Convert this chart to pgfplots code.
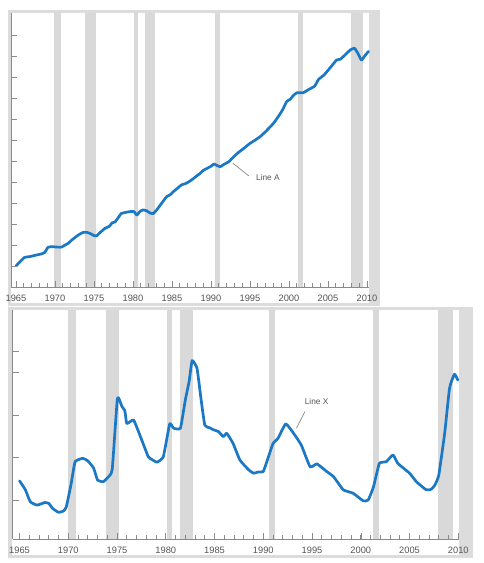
\documentclass[border=0pt]{standalone}
\usepackage{fontspec}
\setmainfont{Liberation Sans}
\usepackage{pgfplots}
\pgfplotsset{compat=1.18}
\definecolor{linecol}{HTML}{1B78C4}
\definecolor{recg}{HTML}{D9D9D9}
\definecolor{framecol}{HTML}{DCDCDC}
\definecolor{axcol}{HTML}{8A8A8A}
\definecolor{txt}{HTML}{555555}
\pgfplotsset{
  panel/.style={
    scale only axis, anchor=south west,
    axis x line=bottom, axis y line=left,
    axis line style={-, draw=axcol, line width=0.8pt},
    axis on top,
    xtick={1965,1970,...,2010}, minor xtick={1965,...,2010},
    yticklabels={},
    tick align=inside,
    major tick length=6pt, minor tick length=3.5pt,
    tick style={axcol, line width=0.6pt},
    /pgf/number format/assume math mode=true,
    x tick label style={/pgf/number format/1000 sep={}, font=\fontsize{9.3}{10}\selectfont, text=txt, yshift=-4pt},
    clip=false,
  },
  rec/.style={fill=recg, draw=none, forget plot},
  ser/.style={color=linecol, line width=2.7pt, line join=round, line cap=round, smooth, tension=0.25},
}
\begin{document}
\begin{tikzpicture}[x=1pt,y=1pt]
\path[use as bounding box] (0,0) rectangle (483,563);
% top frame
\fill[framecol] (8,553) rectangle (380,257);
\fill[white] (11,550) rectangle (369,260);
% bottom frame
\fill[framecol] (7.5,256) rectangle (473,5);
\fill[white] (12,253) rectangle (459,8);

\begin{axis}[panel, at={(11pt,276pt)}, width=358pt, height=274pt,
  xmin=1964.36, xmax=2010.26, ymin=0, ymax=13.05, ytick={1,...,12}]
\addplot[rec] coordinates {(1969.92,0) (1969.92,13.05) (1970.83,13.05) (1970.83,0)} -- cycle;
\addplot[rec] coordinates {(1973.83,0) (1973.83,13.05) (1975.20,13.05) (1975.20,0)} -- cycle;
\addplot[rec] coordinates {(1980.10,0) (1980.10,13.05) (1980.60,13.05) (1980.60,0)} -- cycle;
\addplot[rec] coordinates {(1981.50,0) (1981.50,13.05) (1982.83,13.05) (1982.83,0)} -- cycle;
\addplot[rec] coordinates {(1990.55,0) (1990.55,13.05) (1991.20,13.05) (1991.20,0)} -- cycle;
\addplot[rec] coordinates {(2001.20,0) (2001.20,13.05) (2001.85,13.05) (2001.85,0)} -- cycle;
\addplot[rec] coordinates {(2007.92,0) (2007.92,13.05) (2009.50,13.05) (2009.50,0)} -- cycle;
\addplot[ser] table {
x y
1965.0 1.00
1965.5 1.20
1966.1 1.41
1966.8 1.45
1967.6 1.52
1968.3 1.58
1968.7 1.65
1969.1 1.89
1969.6 1.92
1970.3 1.90
1970.85 1.90
1971.3 2.00
1971.7 2.08
1972.1 2.22
1972.6 2.37
1973.1 2.50
1973.6 2.60
1974.1 2.60
1974.5 2.55
1975.0 2.45
1975.3 2.43
1975.8 2.60
1976.4 2.79
1977.0 2.90
1977.3 3.05
1977.7 3.10
1978.1 3.30
1978.5 3.50
1979.0 3.55
1979.6 3.59
1980.1 3.60
1980.5 3.43
1980.9 3.60
1981.3 3.67
1981.75 3.63
1982.2 3.52
1982.6 3.50
1983.0 3.65
1983.5 3.90
1983.9 4.10
1984.3 4.30
1984.8 4.40
1985.2 4.55
1985.7 4.70
1986.2 4.86
1986.7 4.92
1987.2 5.02
1987.7 5.15
1988.2 5.30
1988.6 5.41
1989.0 5.55
1989.5 5.65
1990.0 5.75
1990.4 5.86
1990.8 5.78
1991.2 5.73
1991.7 5.85
1992.3 5.97
1992.9 6.20
1993.5 6.40
1994.2 6.60
1995.0 6.84
1995.6 6.98
1996.3 7.16
1997.0 7.40
1998.0 7.79
1998.6 8.10
1999.2 8.45
1999.7 8.83
2000.2 8.95
2000.5 9.10
2001.0 9.25
2001.8 9.25
2002.5 9.40
2003.3 9.57
2003.8 9.89
2004.5 10.10
2005.3 10.45
2006.1 10.81
2006.6 10.85
2007.4 11.13
2007.9 11.30
2008.4 11.37
2008.8 11.15
2009.3 10.81
2009.8 11.05
2010.2 11.22
};
\draw[axcol, line width=0.7pt] (axis cs:1992.8,5.9) -- (axis cs:1994.85,5.29);
\node[text=txt, font=\fontsize{8.3}{9}\selectfont] at (axis cs:1997.3,5.19) {Line A};
\end{axis}

\begin{axis}[panel, at={(12.7pt,24pt)}, width=446.3pt, height=229pt,
  xmin=1964.3, xmax=2010.07, ymin=0.082, ymax=5.47, ytick={1,2,3,4,4.5}]
\addplot[rec] coordinates {(1969.92,0.082) (1969.92,5.47) (1970.83,5.47) (1970.83,0.082)} -- cycle;
\addplot[rec] coordinates {(1973.83,0.082) (1973.83,5.47) (1975.20,5.47) (1975.20,0.082)} -- cycle;
\addplot[rec] coordinates {(1980.10,0.082) (1980.10,5.47) (1980.60,5.47) (1980.60,0.082)} -- cycle;
\addplot[rec] coordinates {(1981.50,0.082) (1981.50,5.47) (1982.83,5.47) (1982.83,0.082)} -- cycle;
\addplot[rec] coordinates {(1990.55,0.082) (1990.55,5.47) (1991.20,5.47) (1991.20,0.082)} -- cycle;
\addplot[rec] coordinates {(2001.20,0.082) (2001.20,5.47) (2001.85,5.47) (2001.85,0.082)} -- cycle;
\addplot[rec] coordinates {(2007.92,0.082) (2007.92,5.47) (2009.45,5.47) (2009.45,0.082)} -- cycle;
\addplot[ser] table {
x y
1965.0 1.45
1965.6 1.24
1966.1 0.96
1966.8 0.88
1967.6 0.94
1968.0 0.92
1968.4 0.80
1969.0 0.71
1969.5 0.74
1969.8 0.84
1970.3 1.39
1970.7 1.90
1971.5 1.98
1972.0 1.92
1972.6 1.75
1973.0 1.47
1973.6 1.43
1974.0 1.52
1974.5 1.71
1975.04 3.39
1975.5 3.20
1975.8 3.10
1976.0 2.80
1976.7 2.88
1977.4 2.49
1978.2 2.02
1978.6 1.95
1979.1 1.89
1979.75 2.02
1980.4 2.79
1980.8 2.69
1981.5 2.69
1982.0 3.35
1982.4 3.80
1982.7 4.28
1983.2 4.10
1983.6 3.40
1984.0 2.76
1984.5 2.70
1984.9 2.65
1985.4 2.61
1985.9 2.49
1986.25 2.57
1986.9 2.33
1987.6 1.94
1988.5 1.71
1989.0 1.63
1989.5 1.66
1990.0 1.67
1990.5 2.00
1991.0 2.33
1991.5 2.45
1992.3 2.79
1993.1 2.57
1993.9 2.29
1994.8 1.78
1995.5 1.85
1996.5 1.67
1997.2 1.55
1998.2 1.24
1999.2 1.16
2000.25 0.98
2000.76 1.00
2001.3 1.31
2001.9 1.86
2002.6 1.90
2003.3 2.06
2003.8 1.86
2005.0 1.63
2005.7 1.43
2006.7 1.24
2007.2 1.25
2007.6 1.35
2008.0 1.59
2008.6 2.57
2009.1 3.63
2009.6 3.96
2009.95 3.82
};
\draw[axcol, line width=0.7pt] (axis cs:1993.4,2.69) -- (axis cs:1994.27,3.08);
\node[text=txt, font=\fontsize{8.3}{9}\selectfont] at (axis cs:1995.47,3.31) {Line X};
\end{axis}
\end{tikzpicture}
\end{document}
